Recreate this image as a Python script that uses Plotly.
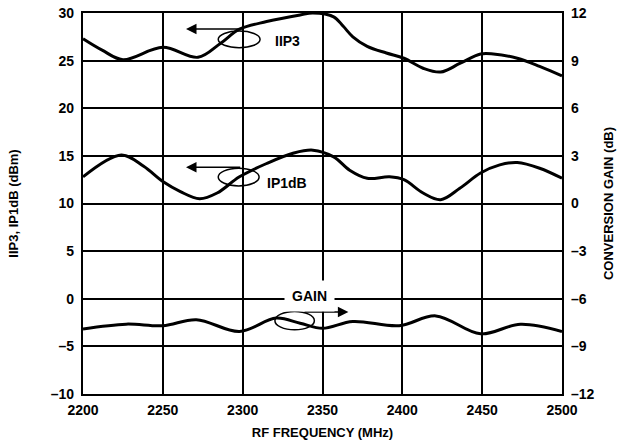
import plotly.graph_objects as go

# ---- data ----
freq_iip3 = [2200, 2212, 2225, 2250, 2272, 2286, 2298, 2315, 2336, 2344, 2357, 2363, 2369, 2378, 2390, 2401, 2413, 2424, 2436, 2449, 2457, 2472, 2486, 2500]
iip3 = [27.3, 26.1, 25.1, 26.4, 25.35, 26.8, 28.3, 29.1, 29.8, 30.0, 29.6, 28.6, 27.5, 26.5, 25.8, 25.25, 24.2, 23.8, 24.7, 25.7, 25.7, 25.25, 24.4, 23.4]

freq_ip1db = [2200, 2224, 2238, 2250, 2261, 2273, 2284, 2298, 2315, 2332, 2344, 2357, 2367, 2378, 2392, 2401, 2413, 2424, 2436, 2449, 2461, 2472, 2486, 2500]
ip1db = [12.8, 15.1, 13.9, 12.3, 11.25, 10.5, 11.1, 12.8, 14.2, 15.3, 15.6, 14.9, 13.5, 12.65, 12.8, 12.5, 11.1, 10.4, 11.6, 13.2, 14.05, 14.3, 13.7, 12.65]

freq_gain = [2200, 2227, 2250, 2271, 2298, 2321, 2336, 2350, 2369, 2398, 2421, 2449, 2474, 2500]
gain = [-7.9, -7.6, -7.7, -7.32, -8.06, -7.22, -7.54, -7.86, -7.43, -7.7, -7.08, -8.21, -7.6, -8.06]

x_ticks = [2200, 2250, 2300, 2350, 2400, 2450, 2500]
x_ticktext = ["2200", "2250", "2300", "2350", "2400", "2450", "2500"]
left_ticks = [-10, -5, 0, 5, 10, 15, 20, 25, 30]
left_ticktext = ["–10", "–5", "0", "5", "10", "15", "20", "25", "30"]
right_ticks = [-12, -9, -6, -3, 0, 3, 6, 9, 12]
right_ticktext = ["–12", "–9", "–6", "–3", "0", "3", "6", "9", "12"]


def b(t):
    return "<b>" + t + "</b>"


FONT = "Liberation Sans, Arial, sans-serif"
tickf = dict(family=FONT, size=14, color="black")
titlef = dict(family=FONT, size=13, color="black")
labf = dict(family=FONT, size=14, color="black")

fig = go.Figure()
line = dict(color="black", width=3, shape="spline", smoothing=1.0)
fig.add_trace(go.Scatter(x=freq_iip3, y=iip3, mode="lines", line=line, yaxis="y", showlegend=False))
fig.add_trace(go.Scatter(x=freq_ip1db, y=ip1db, mode="lines", line=line, yaxis="y", showlegend=False))
fig.add_trace(go.Scatter(x=freq_gain, y=gain, mode="lines", line=line, yaxis="y2", showlegend=False))

# ellipses marking curves
ell = dict(color="black", width=1.5)
fig.add_shape(type="circle", xref="x", yref="y", x0=2284.7, x1=2310.9, y0=26.36, y1=28.11, line=ell)
fig.add_shape(type="circle", xref="x", yref="y", x0=2284.7, x1=2310.3, y0=11.85, y1=13.7, line=ell)
fig.add_shape(type="circle", xref="x", yref="y", x0=2320.2, x1=2344.9, y0=-3.26, y1=-1.34, line=ell)

arrow = dict(showarrow=True, arrowhead=2, arrowsize=1.4, arrowwidth=1.5, arrowcolor="black",
             axref="x", ayref="y", xref="x", yref="y", text="")
fig.add_annotation(x=2264.5, y=28.32, ax=2299.4, ay=28.32, **arrow)
fig.add_annotation(x=2264.5, y=13.81, ax=2299.4, ay=13.81, **arrow)
fig.add_annotation(x=2366.2, y=-1.4, ax=2337.8, ay=-1.4, **arrow)

fig.add_annotation(x=2327.8, y=27.06, xref="x", yref="y", text=b("IIP3"), showarrow=False, font=labf)
fig.add_annotation(x=2327.6, y=12.13, xref="x", yref="y", text=b("IP1dB"), showarrow=False, font=labf)
fig.add_annotation(x=2341.7, y=0.27, xref="x", yref="y", text=b("GAIN"), showarrow=False, font=labf,
                   bgcolor="white", borderpad=7)

common = dict(showline=True, linecolor="black", linewidth=2.2, ticks="", zeroline=False,
              tickfont=tickf, automargin=False)

fig.update_layout(
    width=623, height=446,
    margin=dict(l=83, r=61, t=13, b=52),
    plot_bgcolor="white", paper_bgcolor="white",
    xaxis=dict(range=[2200, 2500], tickvals=x_ticks, ticktext=[b(t) for t in x_ticktext],
               showgrid=True, gridcolor="black", gridwidth=1.6, mirror=True, ticklabelstandoff=2,
               title=dict(text=b("RF FREQUENCY (MHz)"), font=titlef, standoff=11), **common),
    yaxis=dict(range=[-10, 30], tickvals=left_ticks, ticktext=[b(t) for t in left_ticktext],
               showgrid=True, gridcolor="black", gridwidth=1.6, mirror=True, ticklabelstandoff=4,
               title=dict(text=b("IIP3, IP1dB (dBm)"), font=titlef, standoff=29), **common),
    yaxis2=dict(range=[-12, 12], tickvals=right_ticks, ticktext=[b(t) for t in right_ticktext],
                overlaying="y", side="right", showgrid=False, ticklabelstandoff=4,
                title=dict(text=b("CONVERSION GAIN (dB)"), font=titlef, standoff=10), **common),
)

# remove the default page margin so the figure sits at the window's top-left corner
fig.write_html("out.html", config={"displayModeBar": False},
               post_script="document.body.style.margin='0px';document.body.style.overflow='hidden';")
